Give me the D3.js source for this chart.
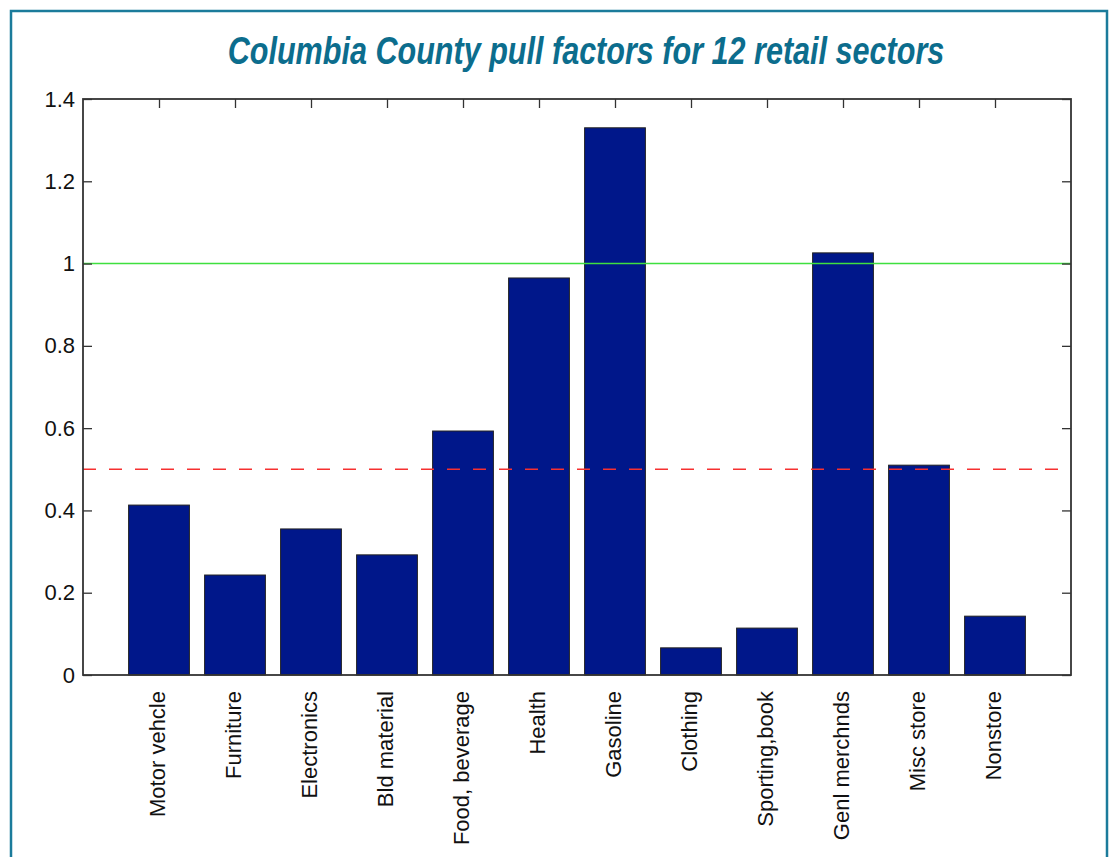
<!DOCTYPE html>
<html>
<head>
<meta charset="utf-8">
<script src="https://cdn.jsdelivr.net/npm/d3@7"></script>
<style>
  body { margin: 0; background: #fff; }
  .tick text { font-family: "Liberation Sans", Arial, sans-serif; }
</style>
</head>
<body>
<div id="chart"></div>
<script>
// data
const sectors = ["Motor vehcle", "Furniture", "Electronics", "Bld material", "Food, beverage",
  "Health", "Gasoline", "Clothing", "Sporting,book", "Genl merchnds", "Misc store", "Nonstore"];
const pullFactors = [0.413, 0.243, 0.355, 0.292, 0.593, 0.965, 1.33, 0.066, 0.114, 1.026, 0.51, 0.143];
const yTicks = [0, 0.2, 0.4, 0.6, 0.8, 1, 1.2, 1.4];
const breakEven = 1;     // green line
const halfLine = 0.5;    // red dashed line
const title = "Columbia County pull factors for 12 retail sectors";

const W = 1110, H = 857;
const plot = { left: 83, top: 99, right: 1071, bottom: 675 };

const svg = d3.select("#chart").append("svg")
  .attr("width", W)
  .attr("height", H);

// teal frame
svg.append("rect")
  .attr("x", 11).attr("y", 11)
  .attr("width", 1096).attr("height", 870)
  .attr("fill", "none")
  .attr("stroke", "#1b7b9b")
  .attr("stroke-width", 2.5);

// condensed italic title: squeeze horizontally to ~717px
const titleG = svg.append("g");
const titleText = titleG.append("text")
  .attr("x", 0).attr("y", 0)
  .attr("text-anchor", "middle")
  .attr("font-family", "'Liberation Sans', Arial, sans-serif")
  .attr("font-size", 38)
  .attr("font-style", "italic")
  .attr("font-weight", "bold")
  .attr("fill", "#0c6d8d")
  .text(title);
const tw = titleText.node().getComputedTextLength();
const sx = tw > 0 ? 717 / tw : 1;
titleG.attr("transform", `translate(586,64) scale(${sx},1)`);

// MATLAB style: bar i sits at x = i+1, axis spans 0..13
const xscale = d3.scaleLinear()
  .domain([0, sectors.length + 1])
  .range([plot.left, plot.right]);

const yscale = d3.scaleLinear()
  .domain([0, 1.4])
  .range([plot.bottom, plot.top]);

const barW = xscale(0.8) - xscale(0);

svg.append("g")
  .selectAll("rect")
  .data(pullFactors)
  .enter().append("rect")
    .attr("x", (d, i) => xscale(i + 1) - barW / 2)
    .attr("y", d => yscale(d))
    .attr("width", barW)
    .attr("height", d => yscale(0) - yscale(d))
    .attr("fill", "#00178a")
    .attr("stroke", "#222")
    .attr("stroke-width", 1);

// reference lines
svg.append("line")
  .attr("x1", plot.left).attr("x2", plot.right)
  .attr("y1", yscale(breakEven)).attr("y2", yscale(breakEven))
  .attr("stroke", "#3fe03f")
  .attr("stroke-width", 1.5);

svg.append("line")
  .attr("x1", plot.left).attr("x2", plot.right)
  .attr("y1", yscale(halfLine)).attr("y2", yscale(halfLine))
  .attr("stroke", "#f63030")
  .attr("stroke-width", 1.5)
  .style("stroke-dasharray", ("13, 13"));

// axes, ticks pointing inward
const yAxisL = d3.axisLeft(yscale)
  .tickValues(yTicks)
  .tickFormat(d3.format("~g"))
  .tickSizeInner(-9)
  .tickSizeOuter(0)
  .tickPadding(8);

const yAxisR = d3.axisRight(yscale)
  .tickValues(yTicks)
  .tickFormat("")
  .tickSizeInner(-9)
  .tickSizeOuter(0);

const xTop = d3.axisTop(xscale)
  .tickValues(d3.range(1, sectors.length + 1))
  .tickFormat("")
  .tickSizeInner(-9)
  .tickSizeOuter(0);

const xBottom = d3.axisBottom(xscale)
  .tickValues(d3.range(1, sectors.length + 1))
  .tickFormat(i => sectors[i - 1])
  .tickSizeInner(-9)
  .tickSizeOuter(0)
  .tickPadding(14);

svg.append("g")
  .attr("transform", `translate(${plot.left},0)`)
  .call(yAxisL)
  .call(g => g.selectAll("text").attr("font-size", 22).attr("fill", "#111"));

svg.append("g")
  .attr("transform", `translate(${plot.right},0)`)
  .call(yAxisR);

svg.append("g")
  .attr("transform", `translate(0,${plot.top})`)
  .call(xTop);

const xb = svg.append("g")
  .attr("transform", `translate(0,${plot.bottom})`)
  .call(xBottom);

xb.selectAll("text")
  .attr("font-size", 22)
  .attr("fill", "#111")
  .attr("transform", "rotate(-90)")
  .attr("text-anchor", "end")
  .attr("x", -16)
  .attr("y", -2)
  .attr("dy", "0.35em");

// bottom ticks hidden behind bars in the original
xb.selectAll(".tick line").remove();

svg.selectAll(".domain").remove();
svg.selectAll(".tick line").attr("stroke", "#333").attr("stroke-width", 1.3);

// box
svg.append("rect")
  .attr("x", plot.left).attr("y", plot.top)
  .attr("width", plot.right - plot.left)
  .attr("height", plot.bottom - plot.top)
  .attr("fill", "none")
  .attr("stroke", "#333")
  .attr("stroke-width", 1.8);
</script>
</body>
</html>
